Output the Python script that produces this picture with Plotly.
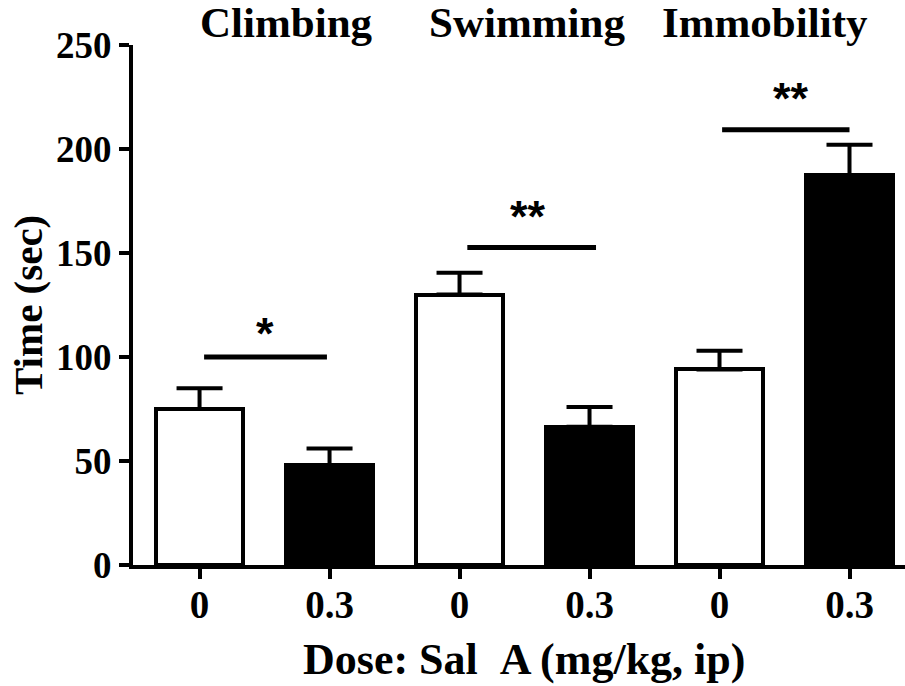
import plotly.graph_objects as go

# Forced swim test: time spent per behaviour, vehicle vs Sal A
categories = ["Climbing", "Swimming", "Immobility"]
doses = ["0", "0.3"]
tick_labels = ["0", "0.3", "0", "0.3", "0", "0.3"]

vehicle_mean = [75.0, 130.0, 94.0]
vehicle_sem = [10.0, 10.5, 9.0]
salA_mean = [48.0, 66.5, 187.5]
salA_sem = [8.0, 9.5, 14.5]

# significance bars: height and label per behaviour
sig_heights = [100.0, 152.7, 209.3]
sig_labels = ["*", "**", "**"]

SERIF = "Liberation Serif"
SANS = "Liberation Sans"

x_vehicle = [2 * i for i in range(len(categories))]
x_salA = [2 * i + 1 for i in range(len(categories))]

fig = go.Figure()

fig.add_trace(go.Bar(
    x=x_vehicle, y=vehicle_mean, width=0.67,
    marker=dict(color="white", line=dict(color="black", width=4)),
    error_y=dict(type="data", symmetric=False, array=vehicle_sem,
                 arrayminus=[0] * len(vehicle_sem),
                 color="black", thickness=4, width=23),
    showlegend=False,
))
fig.add_trace(go.Bar(
    x=x_salA, y=salA_mean, width=0.67,
    marker=dict(color="black", line=dict(color="black", width=4)),
    error_y=dict(type="data", symmetric=False, array=salA_sem,
                 arrayminus=[0] * len(salA_sem),
                 color="black", thickness=4, width=23),
    showlegend=False,
))

# significance lines and stars
line_spans = [(0.035, 0.98), (2.06, 3.05), (4.02, 5.0)]
star_x = [0.5, 2.53, 4.55]
star_shift = [-4, 3, 4]
for (x0, x1), h, lab, sx, ss in zip(line_spans, sig_heights, sig_labels, star_x, star_shift):
    fig.add_shape(type="line", xref="x", yref="y", x0=x0, x1=x1, y0=h, y1=h,
                  line=dict(color="black", width=5))
    fig.add_annotation(x=sx, y=h, xref="x", yref="y", text=lab,
                       showarrow=False, yanchor="bottom", yshift=ss,
                       font=dict(family=SANS, size=45, color="black", weight="bold"))

# group headings
heading_x = [0.665, 2.52, 4.35]
for name, hx in zip(categories, heading_x):
    fig.add_annotation(x=hx, y=1.0, xref="x", yref="paper", text=name,
                       showarrow=False, yanchor="bottom", yshift=-3,
                       font=dict(family=SERIF, size=43, color="black", weight="bold"))

# axis titles
fig.add_annotation(x=0.506, y=-0.13, xref="paper", yref="paper",
                   text="Dose: Sal\u00a0\u00a0A (mg/kg, ip)", showarrow=False,
                   yanchor="top",
                   font=dict(family=SERIF, size=44, color="black", weight="bold"))
fig.add_annotation(x=-0.136, y=0.5, xref="paper", yref="paper",
                   text="Time (sec)", showarrow=False, textangle=-90,
                   xanchor="center", yanchor="middle",
                   font=dict(family=SERIF, size=41, color="black", weight="bold"))

fig.update_layout(
    width=905, height=686,
    margin=dict(l=133, r=0, t=44.5, b=120.5),
    paper_bgcolor="white", plot_bgcolor="white",
    bargap=0, barmode="overlay",
    xaxis=dict(
        range=[-0.512, 5.427], tickmode="array",
        tickvals=list(range(len(tick_labels))), ticktext=tick_labels,
        showline=True, linecolor="black", linewidth=4,
        ticks="outside", ticklen=10, tickwidth=4, tickcolor="black",
        ticklabelstandoff=-8,
        showgrid=False, zeroline=False,
        tickfont=dict(family=SERIF, size=39, color="black", weight="bold"),
    ),
    yaxis=dict(
        range=[0, 250], tickmode="array", tickvals=[0, 50, 100, 150, 200, 250],
        showline=True, linecolor="black", linewidth=4,
        ticks="outside", ticklen=10, tickwidth=4, tickcolor="black",
        showgrid=False, zeroline=False,
        tickfont=dict(family=SERIF, size=37, color="black", weight="bold"),
    ),
)

fig.write_html("out.html")
